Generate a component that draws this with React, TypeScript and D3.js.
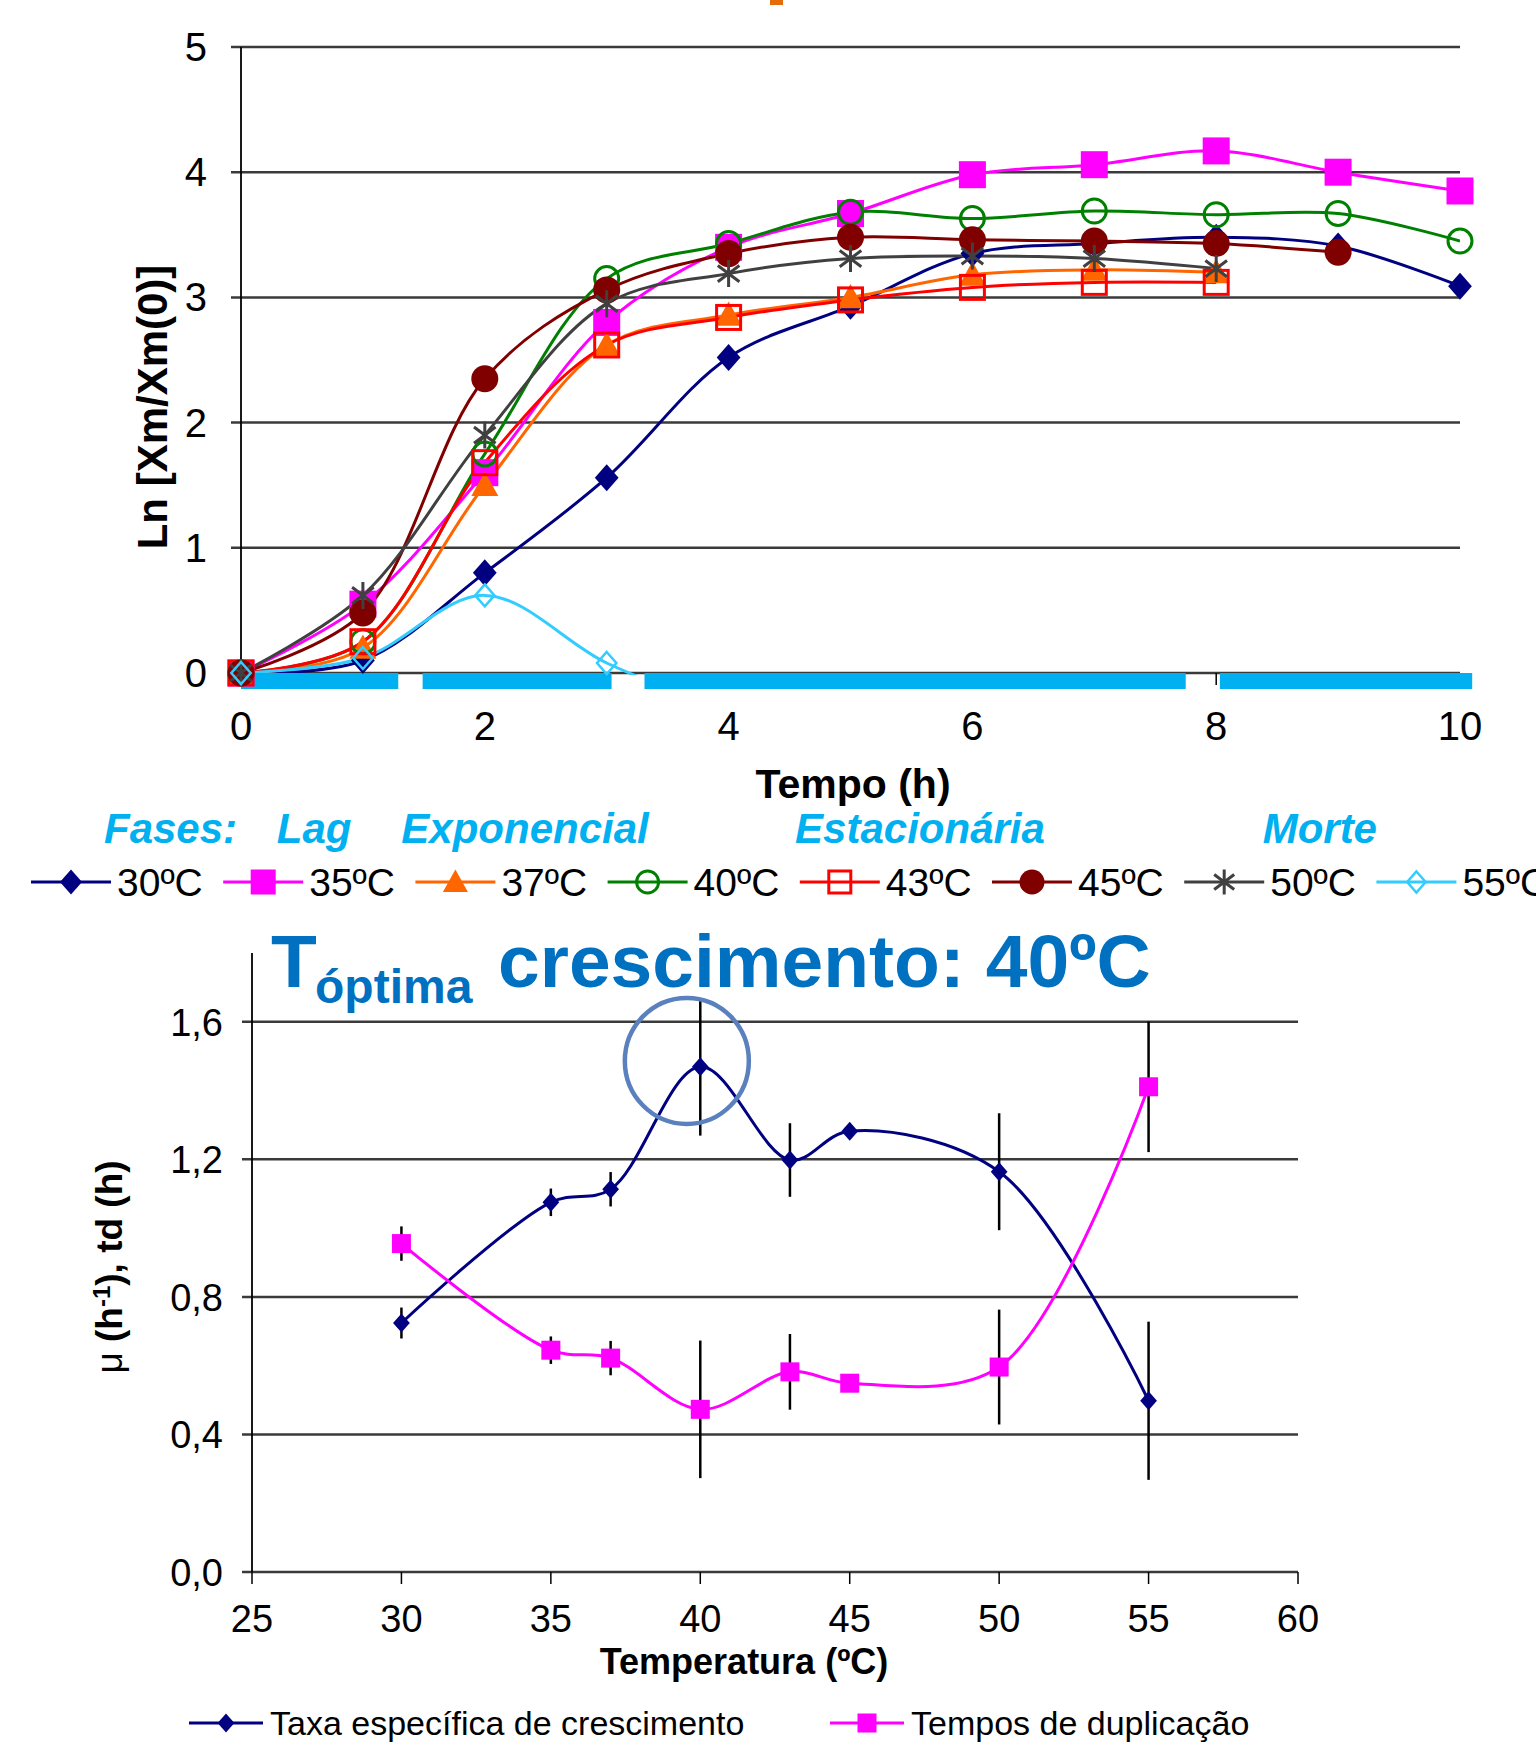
import React, { useEffect, useRef } from 'react';
import * as d3 from 'd3';

// --- curva de crescimento: Ln[Xm/Xm(0)] vs tempo ---
const hours = [0, 1, 2, 3, 4, 5, 6, 7, 8, 9, 10];
const seriesNames = ['30ºC', '35ºC', '37ºC', '40ºC', '43ºC', '45ºC', '50ºC', '55ºC'];
const ln30 = [0, 0.1, 0.8, 1.56, 2.52, 2.93, 3.35, 3.43, 3.48, 3.41, 3.09];
const ln35 = [0, 0.55, 1.6, 2.8, 3.4, 3.67, 3.98, 4.06, 4.17, 4.0, 3.85];
const ln37 = [0, 0.2, 1.5, 2.62, 2.86, 3.0, 3.18, 3.22, 3.2];
const ln40 = [0, 0.25, 1.75, 3.15, 3.43, 3.68, 3.63, 3.69, 3.66, 3.67, 3.45];
const ln43 = [0, 0.25, 1.68, 2.62, 2.84, 2.98, 3.08, 3.12, 3.12];
const ln45 = [0, 0.48, 2.35, 3.06, 3.35, 3.48, 3.46, 3.45, 3.43, 3.36];
const ln50 = [0, 0.62, 1.9, 2.95, 3.19, 3.31, 3.33, 3.31, 3.23];
const ln55 = [0, 0.12, 0.62, 0.08, -0.3];
const seriesValues = [ln30, ln35, ln37, ln40, ln43, ln45, ln50, ln55];
const seriesColors = ['#000080', '#FF00FF', '#FF6600', '#008000', '#FF0000', '#800000', '#404040', '#33CCFF'];
const seriesMarkers = ['diamond', 'square', 'triangle', 'circleOpen', 'squareOpen', 'circle', 'star', 'diamondOpen'];
const hourTicks = [0, 2, 4, 6, 8, 10];
const lnTicks = [0, 1, 2, 3, 4, 5];

// fases (em horas)
const phaseNames = ['Lag', 'Exponencial', 'Estacionária', 'Morte'];
const phaseStart = [0, 1.49, 3.31, 8.03];
const phaseEnd = [1.29, 3.04, 7.75, 10.1];
const phaseLabelAt = [0.6, 2.33, 5.57, 8.85];

// --- taxa especifica e tempos de duplicacao vs temperatura ---
const tempC = [30, 35, 37, 40, 43, 45, 50, 55];
const mu = [0.724, 1.075, 1.113, 1.469, 1.198, 1.282, 1.164, 0.498];
const muErr = [0.045, 0.04, 0.05, 0.2, 0.107, 0, 0.17, 0.23];
const td = [0.955, 0.645, 0.622, 0.473, 0.582, 0.549, 0.596, 1.411];
const tdErr = [0.05, 0.04, 0.05, 0.2, 0.11, 0, 0.167, 0.19];
const tempTicks = [25, 30, 35, 40, 45, 50, 55, 60];
const rateTicks = [0, 0.4, 0.8, 1.2, 1.6];
const bottomNames = ['Taxa específica de crescimento', 'Tempos de duplicação'];

const FONT = '"Liberation Sans", Arial, sans-serif';
const PHASE = '#00B0F0';
const GRID = '#3a3a3a';

function marker(g, kind, color, cx, cy, s) {
  const h = s / 2;
  if (kind === 'diamond' || kind === 'diamondOpen') {
    const w = h * 0.88;
    const p = g.append('path')
      .attr('d', `M${cx},${cy - h}L${cx + w},${cy}L${cx},${cy + h}L${cx - w},${cy}Z`);
    if (kind === 'diamond') p.attr('fill', color);
    else p.attr('fill', 'none').attr('stroke', color).attr('stroke-width', 2.5);
  } else if (kind === 'square') {
    g.append('rect').attr('x', cx - h).attr('y', cy - h).attr('width', s).attr('height', s).attr('fill', color);
  } else if (kind === 'squareOpen') {
    g.append('rect').attr('x', cx - h + 1.5).attr('y', cy - h + 1.5).attr('width', s - 3).attr('height', s - 3)
      .attr('fill', 'none').attr('stroke', color).attr('stroke-width', 3);
  } else if (kind === 'triangle') {
    g.append('path').attr('d', `M${cx},${cy - h}L${cx + h},${cy + h * 0.8}L${cx - h},${cy + h * 0.8}Z`).attr('fill', color);
  } else if (kind === 'circle') {
    g.append('circle').attr('cx', cx).attr('cy', cy).attr('r', h).attr('fill', color);
  } else if (kind === 'circleOpen') {
    g.append('circle').attr('cx', cx).attr('cy', cy).attr('r', h - 1.5)
      .attr('fill', 'none').attr('stroke', color).attr('stroke-width', 3);
  } else if (kind === 'star') {
    const dx = h * 0.8, dy = h * 0.6;
    g.append('path')
      .attr('d', `M${cx},${cy - h}V${cy + h}M${cx - dx},${cy - dy}L${cx + dx},${cy + dy}M${cx - dx},${cy + dy}L${cx + dx},${cy - dy}`)
      .attr('stroke', color).attr('stroke-width', 3).attr('fill', 'none');
  }
}

const App = () => {
  const ref = useRef(null);

  useEffect(() => {
    const svg = d3.select(ref.current);
    svg.selectAll('*').remove();
    svg.append('rect').attr('width', 1536).attr('height', 1746).attr('fill', '#fff');

    // pedaco do titulo cortado no topo
    svg.append('rect').attr('x', 770).attr('y', 0).attr('width', 13).attr('height', 5).attr('fill', '#E46C0A');

    // ================= grafico de cima =================
    const x1 = d3.scaleLinear().domain([0, 10]).range([241, 1460]);
    const y1 = d3.scaleLinear().domain([0, 5]).range([673, 47]);
    const top = svg.append('g');

    top.selectAll('.grid').data(lnTicks).enter().append('line')
      .attr('x1', x1(0) - 10).attr('x2', x1(10))
      .attr('y1', d => y1(d)).attr('y2', d => y1(d))
      .attr('stroke', GRID).attr('stroke-width', 2.5);
    top.append('line').attr('x1', x1(0)).attr('x2', x1(0)).attr('y1', y1(5)).attr('y2', y1(0))
      .attr('stroke', '#000').attr('stroke-width', 1.8);
    top.selectAll('.xt').data(hourTicks).enter().append('line')
      .attr('x1', d => x1(d)).attr('x2', d => x1(d)).attr('y1', y1(0)).attr('y2', y1(0) + 12)
      .attr('stroke', '#000').attr('stroke-width', 1.5);

    top.selectAll('.yl').data(lnTicks).enter().append('text')
      .attr('x', 207).attr('y', d => y1(d) + 14).attr('text-anchor', 'end')
      .attr('font-family', FONT).attr('font-size', 40).text(d => d);
    top.selectAll('.xl').data(hourTicks).enter().append('text')
      .attr('x', d => x1(d)).attr('y', 740).attr('text-anchor', 'middle')
      .attr('font-family', FONT).attr('font-size', 40).text(d => d);

    top.append('text').attr('x', 853).attr('y', 798).attr('text-anchor', 'middle')
      .attr('font-family', FONT).attr('font-size', 41).attr('font-weight', 'bold').text('Tempo (h)');
    top.append('text').attr('transform', 'translate(167,407) rotate(-90)').attr('text-anchor', 'middle')
      .attr('font-family', FONT).attr('font-size', 42).attr('font-weight', 'bold').text('Ln [Xm/Xm(0)]');

    svg.append('clipPath').attr('id', 'plot1').append('rect')
      .attr('x', x1(0)).attr('y', y1(5)).attr('width', x1(10) - x1(0)).attr('height', y1(0) - y1(5) + 2);

    const line1 = d3.line().x((d, i) => x1(hours[i])).y(d => y1(d)).curve(d3.curveCatmullRom.alpha(0.5));
    seriesValues.forEach((vals, k) => {
      top.append('path').attr('d', line1(vals)).attr('fill', 'none')
        .attr('stroke', seriesColors[k]).attr('stroke-width', 3).attr('clip-path', 'url(#plot1)');
    });

    // barras das fases
    top.selectAll('.phase').data(phaseNames).enter().append('rect')
      .attr('x', (d, i) => x1(phaseStart[i])).attr('width', (d, i) => x1(phaseEnd[i]) - x1(phaseStart[i]))
      .attr('y', y1(0)).attr('height', 16).attr('fill', PHASE);

    seriesValues.forEach((vals, k) => {
      const size = seriesMarkers[k] === 'diamondOpen' ? 22 : 27;
      vals.forEach((v, i) => {
        if (v < 0) return;
        marker(top, seriesMarkers[k], seriesColors[k], x1(hours[i]), y1(v), size);
      });
    });

    // rotulos das fases
    const phaseText = (g, x, t, anchor) => g.append('text').attr('x', x).attr('y', 843).attr('text-anchor', anchor)
      .attr('font-family', FONT).attr('font-size', 42).attr('font-weight', 'bold').attr('font-style', 'italic')
      .attr('fill', PHASE).text(t);
    phaseText(top, 104, 'Fases:', 'start');
    phaseNames.forEach((n, i) => phaseText(top, x1(phaseLabelAt[i]), n, 'middle'));

    // legenda
    seriesNames.forEach((n, k) => {
      const lx = 31 + k * 192.2;
      const lg = top.append('g');
      lg.append('line').attr('x1', lx).attr('x2', lx + 80).attr('y1', 882).attr('y2', 882)
        .attr('stroke', seriesColors[k]).attr('stroke-width', 3);
      marker(lg, seriesMarkers[k], seriesColors[k], lx + 40, 882, seriesMarkers[k] === 'diamondOpen' ? 21 : 25);
      lg.append('text').attr('x', lx + 86).attr('y', 896).attr('font-family', FONT).attr('font-size', 39).text(n);
    });

    // ================= grafico de baixo =================
    const x2 = d3.scaleLinear().domain([25, 60]).range([252, 1298]);
    const y2 = d3.scaleLinear().domain([0, 1.8]).range([1572, 953]);
    const bot = svg.append('g');

    bot.append('text').attr('x', 271).attr('y', 987).attr('font-family', FONT).attr('font-size', 75)
      .attr('font-weight', 'bold').attr('fill', '#0070C0').text('T');
    bot.append('text').attr('x', 315).attr('y', 1003).attr('font-family', FONT).attr('font-size', 48)
      .attr('font-weight', 'bold').attr('fill', '#0070C0').text('óptima');
    bot.append('text').attr('x', 498).attr('y', 987).attr('font-family', FONT).attr('font-size', 75)
      .attr('font-weight', 'bold').attr('fill', '#0070C0').text('crescimento: 40ºC');

    bot.selectAll('.grid').data(rateTicks).enter().append('line')
      .attr('x1', x2(25) - 10).attr('x2', x2(60))
      .attr('y1', d => y2(d)).attr('y2', d => y2(d))
      .attr('stroke', GRID).attr('stroke-width', 2.5);
    bot.append('line').attr('x1', x2(25)).attr('x2', x2(25)).attr('y1', y2(1.8)).attr('y2', y2(0))
      .attr('stroke', '#000').attr('stroke-width', 1.8);
    bot.selectAll('.xt').data(tempTicks).enter().append('line')
      .attr('x1', d => x2(d)).attr('x2', d => x2(d)).attr('y1', y2(0)).attr('y2', y2(0) + 12)
      .attr('stroke', '#000').attr('stroke-width', 1.5);

    bot.selectAll('.yl').data(rateTicks).enter().append('text')
      .attr('x', 223).attr('y', d => y2(d) + 14).attr('text-anchor', 'end')
      .attr('font-family', FONT).attr('font-size', 38).text(d => d.toFixed(1).replace('.', ','));
    bot.selectAll('.xl').data(tempTicks).enter().append('text')
      .attr('x', d => x2(d)).attr('y', 1632).attr('text-anchor', 'middle')
      .attr('font-family', FONT).attr('font-size', 38).text(d => d);

    bot.append('text').attr('x', 744).attr('y', 1674).attr('text-anchor', 'middle')
      .attr('font-family', FONT).attr('font-size', 36).attr('font-weight', 'bold').text('Temperatura (ºC)');
    const yt = bot.append('text').attr('transform', 'translate(122,1267) rotate(-90)').attr('text-anchor', 'middle')
      .attr('font-family', FONT).attr('font-size', 37).attr('font-weight', 'bold');
    yt.append('tspan').attr('font-weight', 'normal').text('μ');
    yt.append('tspan').text(' (h');
    yt.append('tspan').attr('font-size', 24).attr('dy', -12).text('-1');
    yt.append('tspan').attr('dy', 12).text('), td (h)');

    const pairs = [[mu, muErr, '#000080', 'diamond'], [td, tdErr, '#FF00FF', 'square']];
    pairs.forEach(([vals, errs]) => {
      vals.forEach((v, i) => {
        if (!errs[i]) return;
        bot.append('line').attr('x1', x2(tempC[i])).attr('x2', x2(tempC[i]))
          .attr('y1', y2(v - errs[i])).attr('y2', y2(v + errs[i]))
          .attr('stroke', '#000').attr('stroke-width', 2.5);
      });
    });
    const line2 = d3.line().x((d, i) => x2(tempC[i])).y(d => y2(d)).curve(d3.curveCatmullRom.alpha(0.5));
    pairs.forEach(([vals, errs, color, kind]) => {
      bot.append('path').attr('d', line2(vals)).attr('fill', 'none').attr('stroke', color).attr('stroke-width', 3);
      vals.forEach((v, i) => marker(bot, kind, color, x2(tempC[i]), y2(v), 19));
    });

    // destaque do maximo
    bot.append('ellipse').attr('cx', x2(39.55)).attr('cy', y2(1.486)).attr('rx', 62).attr('ry', 63)
      .attr('fill', 'none').attr('stroke', '#5A80BE').attr('stroke-width', 4.5);

    // legenda
    const legX = [189, 830];
    pairs.forEach(([, , color, kind], k) => {
      bot.append('line').attr('x1', legX[k]).attr('x2', legX[k] + 74).attr('y1', 1723).attr('y2', 1723)
        .attr('stroke', color).attr('stroke-width', 3);
      marker(bot, kind, color, legX[k] + 37, 1723, 19);
      bot.append('text').attr('x', legX[k] + 81).attr('y', 1735).attr('font-family', FONT).attr('font-size', 34)
        .text(bottomNames[k]);
    });
  }, []);

  return (
    <svg ref={ref} width={1536} height={1746} style={{ position: 'absolute', left: 0, top: 0 }}></svg>
  );
};

export default App;
